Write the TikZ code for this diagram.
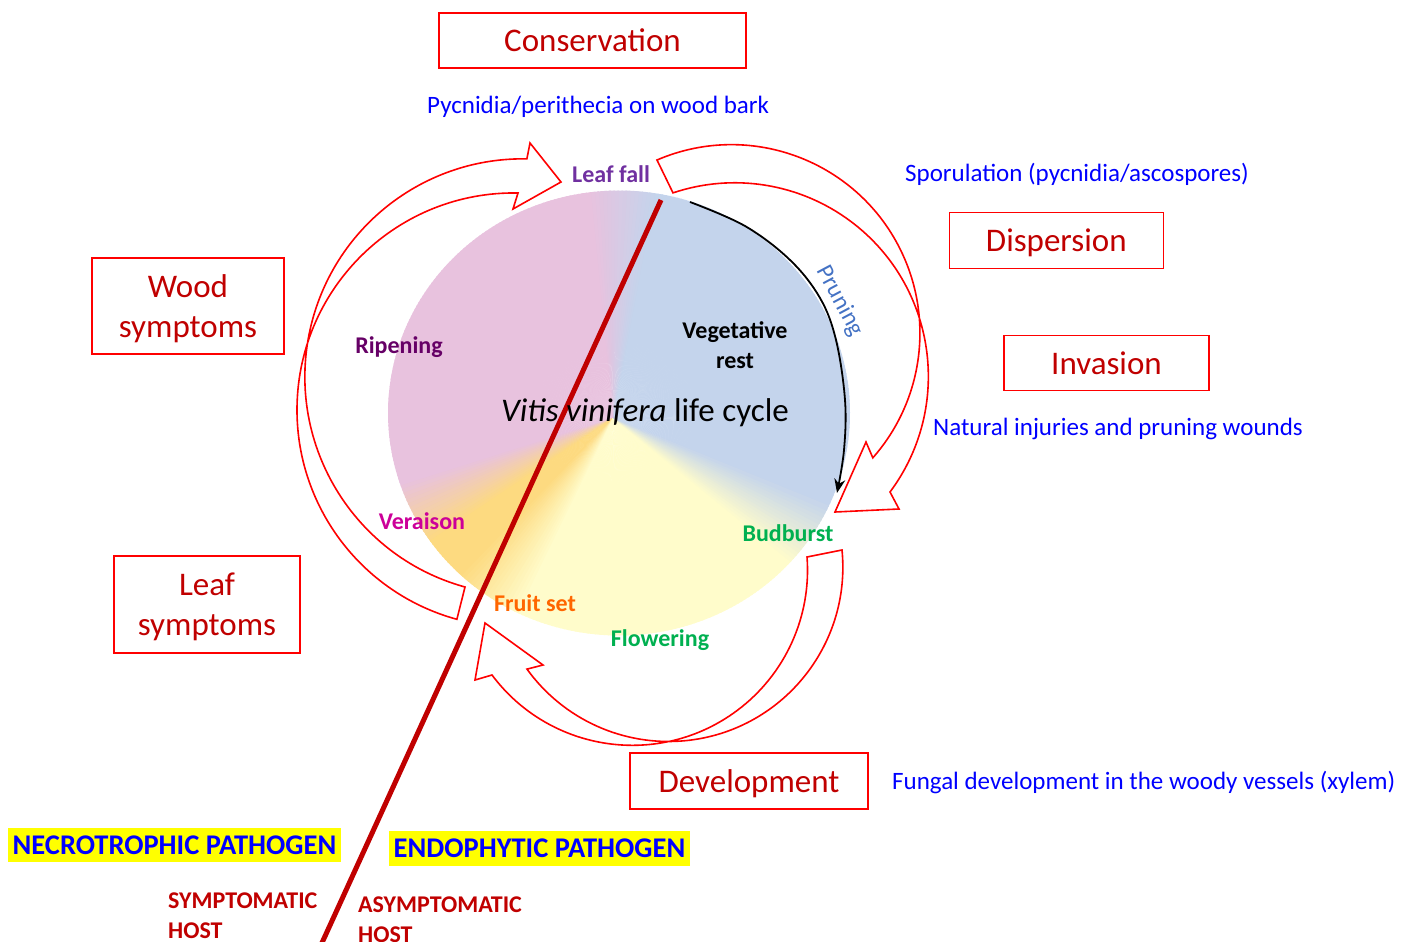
\documentclass[tikz,border=0pt]{standalone}
\usepackage{fontspec}
\setmainfont{Carlito}
\usepackage{graphicx}
\usetikzlibrary{arrows.meta}
\definecolor{boxred}{HTML}{FF0000}
\definecolor{darkred}{HTML}{C00000}
\definecolor{infoblue}{HTML}{0000FF}
\definecolor{leaffallc}{HTML}{7030A0}
\definecolor{ripenc}{HTML}{660066}
\definecolor{veraic}{HTML}{CC0099}
\definecolor{fruitc}{HTML}{FF6600}
\definecolor{greenc}{HTML}{00B050}
\definecolor{prunc}{HTML}{4472C4}
\definecolor{pieblue}{RGB}{196,212,236}
\definecolor{piepink}{RGB}{232,194,222}
\definecolor{piegold}{RGB}{253,218,128}
\definecolor{pieyel}{RGB}{255,252,203}
\definecolor{hiyel}{HTML}{FFFF00}
\newcommand{\pieWedge}[2]{\fill[#2] (613,418) -- ({619+231*cos(#1)},{413-222.5*sin(#1)}) -- ({619+231*cos(#1+1.4)},{413-222.5*sin(#1+1.4)}) -- cycle;}
\tikzset{
 stagebox/.style={draw=boxred, line width=1.4pt, text=darkred, font=\fontsize{33}{40}\selectfont, align=center, inner sep=0pt, text depth=0pt},
 info/.style={text=infoblue, font=\fontsize{25}{30}\selectfont, anchor=base west, inner sep=0pt},
 stagelab/.style={font=\bfseries\fontsize{24}{30}\selectfont, anchor=base, inner sep=0pt},
 redarrow/.style={draw=boxred, line width=1.6pt, fill=white, line join=miter},
 pathogen/.style={fill=hiyel, text=infoblue, font=\bfseries\fontsize{28.5}{34}\selectfont, inner sep=0pt, text depth=0pt},
 hostlab/.style={text=darkred, font=\bfseries\fontsize{24}{30}\selectfont, align=left, anchor=base west, inner sep=0pt},
}
\begin{document}
\begin{tikzpicture}[x=1pt,y=-1pt]
\useasboundingbox (0,0) rectangle (1413,942);
% pie
\foreach \t in {-25,...,80}{\pieWedge{\t}{pieblue}}
\foreach \t in {81,...,96}{\pgfmathtruncatemacro{\p}{(\t-80)*100/17}\pieWedge{\t}{piepink!\p!pieblue}}
\foreach \t in {97,...,198}{\pieWedge{\t}{piepink}}
\foreach \t in {199,...,214}{\pgfmathtruncatemacro{\p}{(\t-198)*100/17}\pieWedge{\t}{piegold!\p!piepink}}
\foreach \t in {215,...,226}{\pieWedge{\t}{piegold}}
\foreach \t in {227,...,243}{\pgfmathtruncatemacro{\p}{(\t-226)*100/18}\pieWedge{\t}{pieyel!\p!piegold}}
\foreach \t in {244,...,317}{\pieWedge{\t}{pieyel}}
\foreach \t in {318,...,334}{\pgfmathtruncatemacro{\p}{(\t-317)*100/18}\pieWedge{\t}{pieblue!\p!pieyel}}

% pruning arrow
\draw[line width=1.8pt, -{Stealth[length=14pt,width=11pt]}] plot[smooth, tension=0.6] coordinates {(690,202) (745,226) (790,260) (820,298) (836,340) (845,400) (844,450) (837,493)};

% red curved block arrows
\draw[redarrow] (465,587) arc[start angle=105.4, end angle=271.05, radius=218] -- (530,143) -- (561,182) -- (513,209) -- (518,193) arc[start angle=271.06, end angle=105.26, radius=217] -- cycle;
\draw[redarrow] (657,160) arc[start angle=-113.26, end angle=41.4, radius=188.5] -- (866,442) -- (835,512) -- (899,509) -- (890,492) arc[start angle=36.68, end angle=-108.6, radius=193.6] -- cycle;
\draw[redarrow] (842,550) arc[start angle=-5.63, end angle=144.2, radius=174.4] -- (543,665) -- (485,623) -- (475,680) -- (492,675) arc[start angle=143.22, end angle=-4.3, radius=175.2] -- cycle;

% dividing line
\coordinate (divtop) at (661,200);
\coordinate (divbot) at (321,945);
\draw[darkred, line width=5pt] (divtop) -- (divbot);

% stage boxes
\node[stagebox, minimum width=307pt, minimum height=55pt] (cons) at (592.5,40.5) {Conservation};
\node[stagebox, minimum width=192pt, minimum height=96pt] (wood) at (188,306) {Wood\\symptoms};
\node[stagebox, minimum width=186pt, minimum height=97pt] (leafs) at (207,604.5) {Leaf\\symptoms};
\node[stagebox, minimum width=214pt, minimum height=55.5pt] (disp) at (1056.3,240.5) {Dispersion};
\node[stagebox, minimum width=205pt, minimum height=55.5pt] (inv) at (1106.5,363) {Invasion};
\node[stagebox, minimum width=238pt, minimum height=56pt] (dev) at (749,781) {Development};

% info texts
\node[info] (pyc) at (427,113) {Pycnidia/perithecia on wood bark};
\node[info] (spo) at (905,181) {Sporulation (pycnidia/ascospores)};
\node[info] (nat) at (933,435) {Natural injuries and pruning wounds};
\node[info] (fun) at (892,789) {Fungal development in the woody vessels (xylem)};

% pie labels
\node[stagelab, text=leaffallc] (lfall) at (611,182) {Leaf fall};
\node[stagelab, text=ripenc] (ripe) at (399,353) {Ripening};
\node[stagelab, text=black, align=center] (veg) at (735,368) {Vegetative\\rest};
\node[stagelab, text=veraic] (vera) at (422,529) {Veraison};
\node[stagelab, text=fruitc] (fset) at (535,611) {Fruit set};
\node[stagelab, text=greenc] (flow) at (660,646) {Flowering};
\node[stagelab, text=greenc] (bud) at (788,541) {Budburst};
\node[text=prunc, font=\fontsize{24}{28}\selectfont, rotate=-62, inner sep=0pt] (prun) at (840,301) {Pruning};
\node[font=\fontsize{33}{40}\selectfont, anchor=base, inner sep=0pt] (vitis) at (645,421) {\itshape Vitis vinifera\upshape{} life cycle};

% pathogen labels
\node[pathogen, minimum width=333pt, minimum height=34pt] (necro) at (174.5,845) {NECROTROPHIC PATHOGEN};
\node[pathogen, minimum width=301pt, minimum height=35pt] (endo) at (539.5,848.5) {ENDOPHYTIC PATHOGEN};
\node[hostlab] (symp) at (168,938) {SYMPTOMATIC\\HOST};
\node[hostlab] (asymp) at (358,942) {ASYMPTOMATIC\\HOST};
\end{tikzpicture}
\end{document}
